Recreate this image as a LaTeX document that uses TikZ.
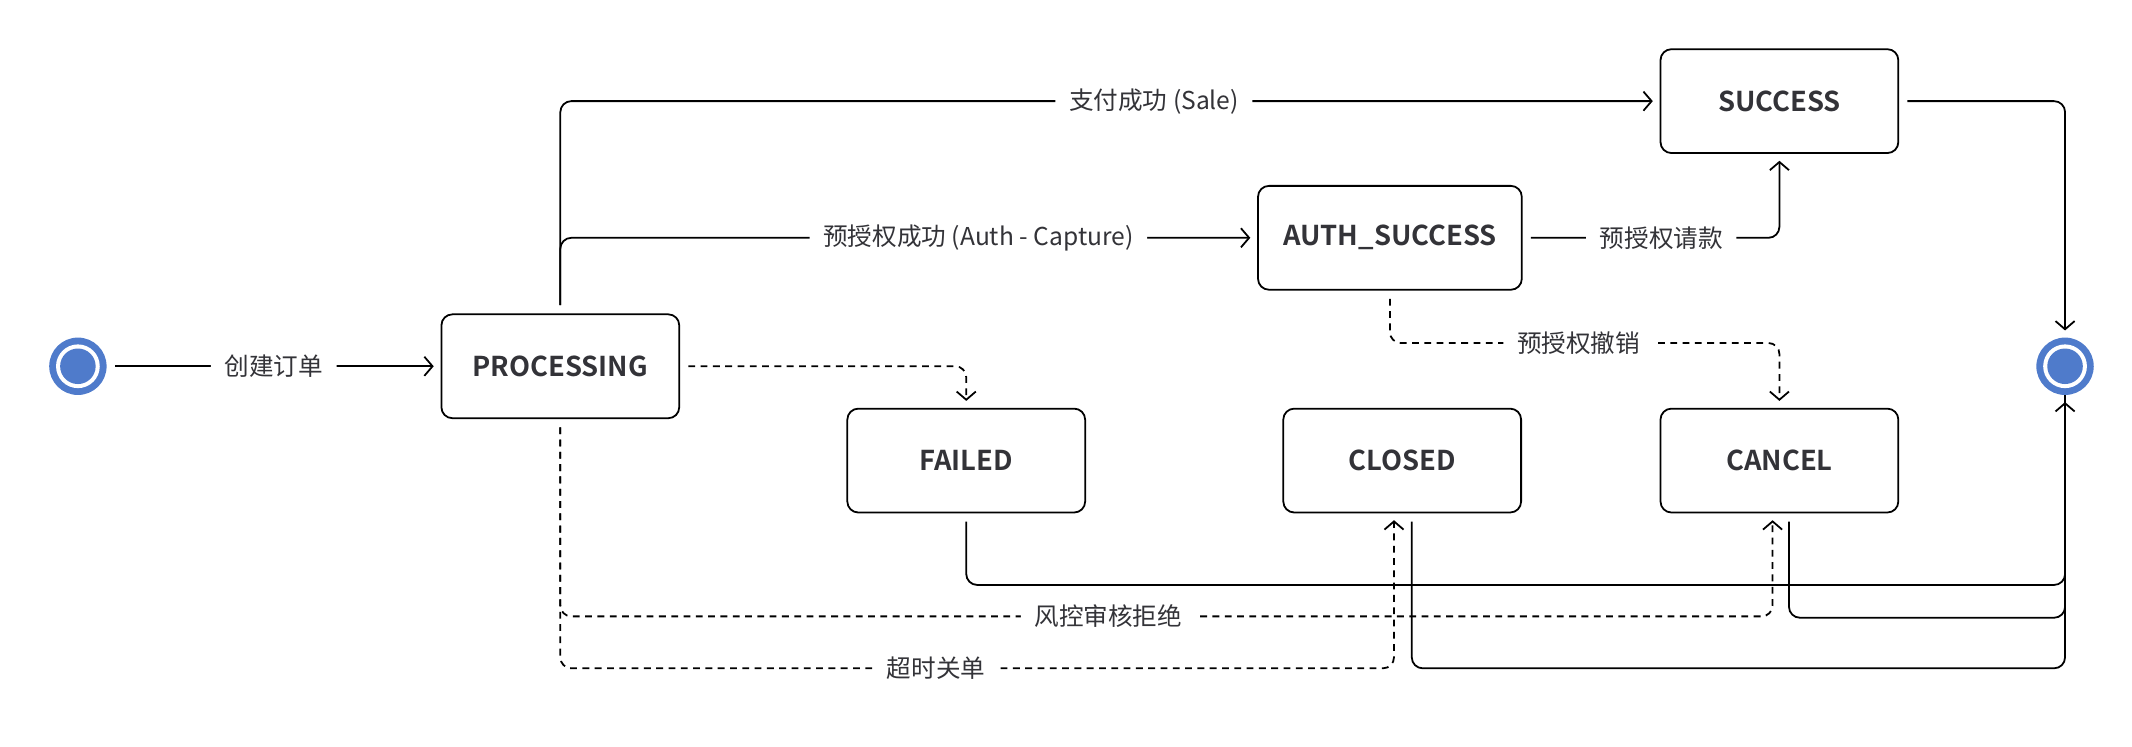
\documentclass[tikz,border=0pt]{standalone}
\usepackage{fontspec}
\setmainfont{Noto Sans CJK SC}[BoldFont={Noto Sans CJK SC Bold}]
\usetikzlibrary{arrows.meta}
\definecolor{dotblue}{HTML}{4F7BCB}
\definecolor{txt}{HTML}{333338}
\tikzset{
    State/.style={%
        shape=rectangle,%
        draw=black,%
        line width=1.3pt,%
        rounded corners=8pt,%
        minimum width=174pt,%
        minimum height=76pt,%
        text=txt,%
        font=\fontsize{20pt}{22pt}\selectfont\bfseries,%
    },
    Pseudo/.style={circle,minimum size=42pt,inner sep=0pt},
    Tr/.style={line width=1.3pt,rounded corners=8pt,-{Straight Barb[length=6pt,width=14pt]},
        shorten <=6pt,shorten >=5pt},
    Plain/.style={line width=1.3pt,rounded corners=8pt,shorten <=6pt},
    Dash/.style={dash pattern=on 5pt off 4pt},
    Lbl/.style={fill=white,inner xsep=10pt,text=txt,font=\fontsize{18pt}{20pt}\selectfont},
}
\begin{document}
\begin{tikzpicture}[x=1pt,y=-1pt]
    \useasboundingbox (0,0) rectangle (1560,546);

    \node[Pseudo] (start) at (57,268) {};
    \node[Pseudo] (stop) at (1511,268) {};
    \foreach \c in {start,stop}{
        \fill[dotblue] (\c) circle (21pt);
        \fill[white] (\c) circle (16pt);
        \fill[dotblue] (\c) circle (13pt);
    }

    \node[State] (proc) at (410,268) {PROCESSING};
    \node[State] (succ) at (1302,74) {SUCCESS};
    \node[State,minimum width=193pt] (auth) at (1017,174) {AUTH\_SUCCESS};
    \node[State] (fail) at (707,337) {FAILED};
    \node[State] (clos) at (1026,337) {CLOSED};
    \node[State] (canc) at (1302,337) {CANCEL};

    \coordinate (vrev) at (1155,251);
    \coordinate (vrisk) at (811,451);
    \coordinate (vtime) at (685,489);
    \coordinate (jfail) at (1300,428);
    \coordinate (jcanc) at (1400,452);
    \coordinate (jclos) at (1300,489);

    \draw[Tr] (start) -- node[Lbl]{创建订单} (proc);
    \draw[Tr] (proc.north) |- node[Lbl,pos=.77]{支付成功 (Sale)} (succ.west);
    \draw[Tr] (proc.north) |- node[Lbl,pos=.8]{预授权成功 (Auth - Capture)} (auth.west);
    \draw[Tr] (auth.east) -| node[Lbl,pos=.27]{预授权请款} (succ.south);
    \draw[Tr,Dash] (auth.south) |- (vrev) node[Lbl]{预授权撤销} -| (canc.north);
    \draw[Tr,Dash] (proc.east) -| (fail.north);
    \draw[Tr] (succ.east) -| (stop.north);

    \draw[Tr] (fail.south) |- (jfail) -| (stop.south);
    \draw[Plain] ([xshift=7pt]canc.south) |- (jcanc) -| (stop.south);
    \draw[Plain] ([xshift=7pt]clos.south) |- (jclos) -| (stop.south);

    \draw[Tr,Dash] (proc.south) |- (vrisk) node[Lbl]{风控审核拒绝} -| ([xshift=-5pt]canc.south);
    \draw[Tr,Dash] (proc.south) |- (vtime) node[Lbl]{超时关单} -| ([xshift=-6pt]clos.south);
\end{tikzpicture}
\end{document}
